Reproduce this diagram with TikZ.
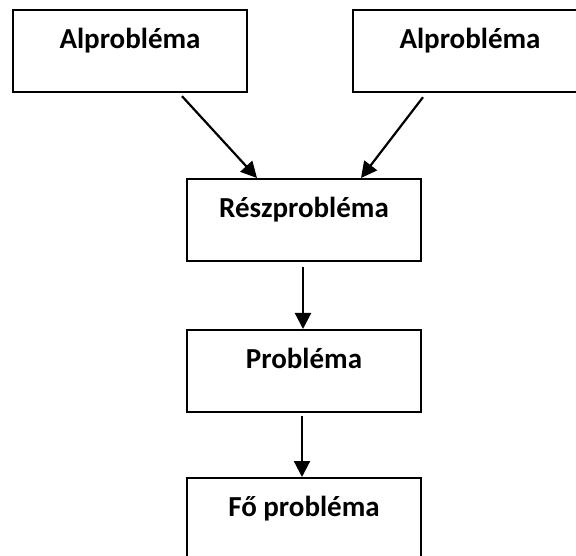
\documentclass[tikz,border=0pt]{standalone}
\usepackage{fontspec}
\setmainfont{Carlito}
\usetikzlibrary{arrows.meta}
\begin{document}
\begin{tikzpicture}[x=1pt,y=1pt,
  box/.style={draw=black, line width=2.2pt, rectangle, inner sep=0pt,
    minimum width=234pt, text height=38pt, text depth=44pt, anchor=north,
    font=\bfseries\fontsize{29}{34}\selectfont},
  arr/.style={draw=black, line width=2.2pt, -{Triangle[length=16pt,width=16pt]}}]
\clip (0,0) rectangle (576,555);
\useasboundingbox (0,0) rectangle (576,555);
\node[box] (a) at (130,546) {Alprobléma};
\node[box] (b) at (470,546) {Alprobléma};
\node[box] (r) at (304,377) {Részprobléma};
\node[box] (p) at (304,226) {Probléma};
\node[box] (f) at (304,78) {Fő probléma};
\draw[arr] ([shift={(52,-3)}]a.south) -- ([xshift=-47]r.north);
\draw[arr] ([shift={(-47,-4)}]b.south) -- ([xshift=57]r.north);
\draw[arr] ([shift={(-1,-5)}]r.south) -- ([xshift=-1]p.north);
\draw[arr] ([shift={(-2,-3)}]p.south) -- ([xshift=-2]f.north);
\end{tikzpicture}
\end{document}
